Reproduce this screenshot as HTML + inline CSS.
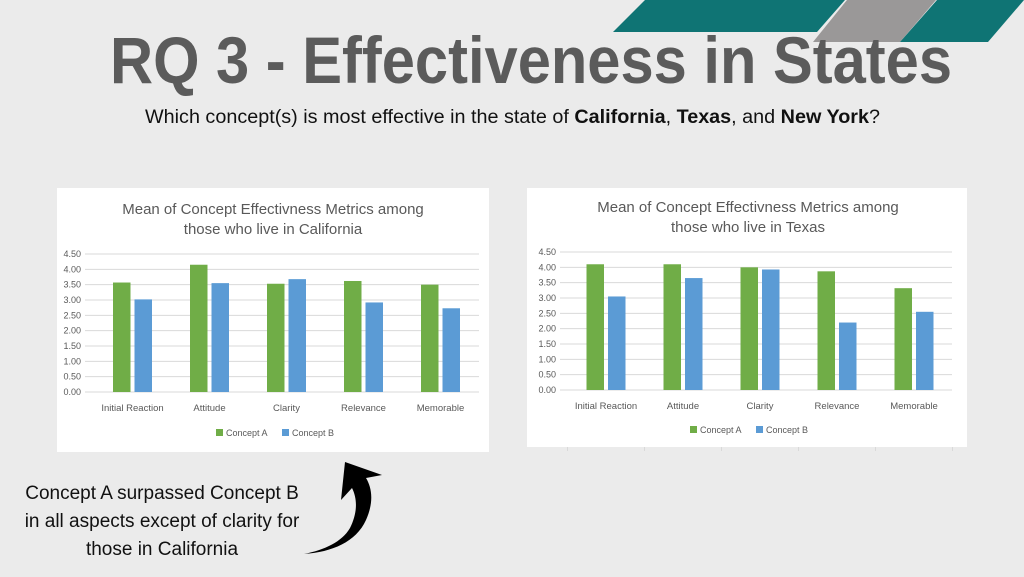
<!DOCTYPE html>
<html><head><meta charset="utf-8"><style>
html,body{margin:0;padding:0;background:#ebebeb;}
svg{display:block;font-family:"Liberation Sans",sans-serif;}
</style></head><body>
<svg id="s" width="1024" height="577" viewBox="0 0 1024 577">
<rect width="1024" height="577" fill="#ebebeb"/>
<polygon points="613,32 817,32 845,0 645,0" fill="#0f7474"/>
<polygon points="813,42 900,42 936,0 847,0" fill="#9a9898"/>
<polygon points="900,42 988,42 1024,0 937,0" fill="#0f7474"/>
<text x="110" y="83" font-size="66" font-weight="bold" fill="#5b5b5b" textLength="842" lengthAdjust="spacingAndGlyphs">RQ 3 - Effectiveness in States</text>
<text x="145" y="123" font-size="19" fill="#111" textLength="735" lengthAdjust="spacingAndGlyphs">Which concept(s) is most effective in the state of <tspan font-weight="bold">California</tspan>, <tspan font-weight="bold">Texas</tspan>, and <tspan font-weight="bold">New York</tspan>?</text>
<g font-size="19" fill="#111" text-anchor="middle">
<text x="162" y="499">Concept A surpassed Concept B</text>
<text x="162" y="527">in all aspects except of clarity for</text>
<text x="162" y="555">those in California</text>
</g>
<path d="M304,554 C332,552 356,542 366,520 C374,502 372,488 366,478 L382,475 L345,462 L341,500 L352,488 C358,500 357,514 350,528 C342,542 324,550 304,554 Z" fill="#000"/>
<g id="charts"></g>
</svg>
<script>
const categories = ["Initial Reaction","Attitude","Clarity","Relevance","Memorable"];
const yTicks = ["0.00","0.50","1.00","1.50","2.00","2.50","3.00","3.50","4.00","4.50"];
const caConceptA = [3.57,4.15,3.53,3.62,3.50];
const caConceptB = [3.02,3.55,3.68,2.92,2.73];
const txConceptA = [4.10,4.10,4.00,3.87,3.32];
const txConceptB = [3.05,3.65,3.93,2.20,2.55];
const NS="http://www.w3.org/2000/svg";
const root=document.getElementById('charts');
function mk(tag,attrs,parent){const e=document.createElementNS(NS,tag);for(const k in attrs)e.setAttribute(k,attrs[k]);parent.appendChild(e);return e;}
function chart(cfg){
  const g=mk('g',{},root);
  
  
  const bg=mk('rect',{x:cfg.px,y:cfg.py,width:cfg.pw,height:cfg.ph,fill:'#fff'},g);
  
  
  cfg.title.forEach((t,i)=>{const e=mk('text',{x:cfg.tx,y:cfg.ty+i*20,'font-size':15,fill:'#595959','text-anchor':'middle'},g);e.textContent=t;
    
    });
  const x0=cfg.x0,x1=cfg.x1,y0=cfg.y0,yTop=cfg.yTop,max=4.5;
  const Y=v=>y0-(v/max)*(y0-yTop);
  const cw=cfg.cw, c0=cfg.c0;
  const X=i=>c0+i*cw;
  yTicks.forEach(t=>{const v=parseFloat(t);const y=Y(v);
    const l=mk('line',{x1:x0,x2:x1,y1:y,y2:y,stroke:'#d9d9d9','stroke-width':1},g);
    
    
    const tx=mk('text',{x:x0-4,y:y+3,'font-size':9,fill:'#595959','text-anchor':'end'},g);tx.textContent=t;
    
    });
  const bw=17.5,gap=4;
  categories.forEach((c,i)=>{
    const cx=X(i);
    const a=mk('rect',{x:cx-gap/2-bw,y:Y(cfg.A[i]),width:bw,height:y0-Y(cfg.A[i]),fill:'#70ad47'},g);
    
    
    const b=mk('rect',{x:cx+gap/2,y:Y(cfg.B[i]),width:bw,height:y0-Y(cfg.B[i]),fill:'#5b9bd5'},g);
    
    
    const t=mk('text',{x:cx,y:y0+19,'font-size':9.5,fill:'#595959','text-anchor':'middle'},g);t.textContent=c;
    
    
  });
  const ly=cfg.ly;
  [['Concept A','#70ad47',cfg.lx],['Concept B','#5b9bd5',cfg.lx+66]].forEach(([n,col,lx])=>{
    const s=mk('rect',{x:lx,y:ly-7,width:7,height:7,fill:col},g);
    
    
    const t=mk('text',{x:lx+10,y:ly,'font-size':9,fill:'#595959'},g);t.textContent=n;
    
    
  });
  if(cfg.bottomTicks){
    for(let i=0;i<=5;i++){
      const l=mk('line',{x1:cfg.c0-cw/2+i*cw,x2:cfg.c0-cw/2+i*cw,y1:cfg.py+cfg.ph,y2:cfg.py+cfg.ph+4,stroke:'#d9d9d9'},g);
      
      
    }
  }
}
chart({name:'california-chart',px:57,py:188,pw:432,ph:264,tx:273,ty:214,title:['Mean of Concept Effectivness Metrics among','those who live in California'],
  x0:85,x1:479,y0:392,yTop:254,c0:132.5,cw:77,A:caConceptA,B:caConceptB,lx:216,ly:436});
chart({name:'texas-chart',px:527,py:188,pw:440,ph:259,tx:748,ty:212,title:['Mean of Concept Effectivness Metrics among','those who live in Texas'],
  x0:560,x1:952,y0:390,yTop:252,c0:606,cw:77,A:txConceptA,B:txConceptB,lx:690,ly:433,bottomTicks:true});
</script>
</body></html>
